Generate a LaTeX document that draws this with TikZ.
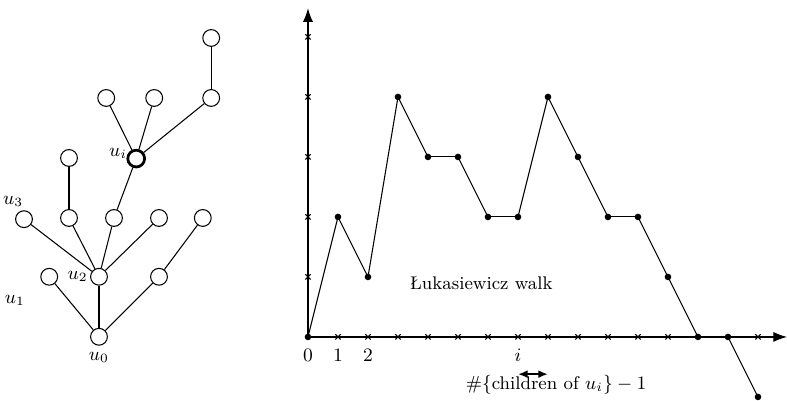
\documentclass[tikz,border=0pt]{standalone}
\usepackage{tikz}
\usetikzlibrary{arrows.meta, positioning, shapes.misc}
\tikzset{
  vtx/.style={circle, draw, line width=0.5pt, minimum size=0.28cm, inner sep=0pt, fill=white},
  vtxbold/.style={vtx, line width=1.3pt},
  edge/.style={line width=0.5pt},
  dot/.style={circle, fill, minimum size=0.11cm, inner sep=0pt},
  crs/.style={cross out, draw, line width=0.5pt, minimum size=0.07cm, inner sep=0pt},
  axis/.style={line width=0.6pt, -{Latex[length=2.3mm, width=1.7mm]}},
  walk/.style={line width=0.5pt},
  lbl/.style={inner sep=1pt},
}

\begin{document}
\begin{tikzpicture}[x=1cm, y=1cm, font=\fontsize{8.7}{10}\selectfont]
  \useasboundingbox (0,0) rectangle (13.117,6.683);
  \node[vtx, label={[lbl, label distance=2pt]below:$u_0$}] (u0) at (1.65,1.07) {};
  \node[vtx] (u1) at (0.82,2.07) {};
  \node[vtx, label={[lbl]left:$u_2$}] (u2) at (1.65,2.07) {};
  \node[vtx] (r1) at (2.65,2.07) {};
  \node[vtx] (u3) at (0.4,3.03) {};
  \node[vtx] (c2) at (1.15,3.05) {};
  \node[vtx] (c3) at (1.9,3.05) {};
  \node[vtx] (c4) at (2.65,3.05) {};
  \node[vtx] (r2) at (3.38,3.05) {};
  \node[vtx] (g1) at (1.15,4.05) {};
  \node[vtxbold] (ui) at (2.27,4.04) {};
  \node[vtx] (d1) at (1.77,5.05) {};
  \node[vtx] (d2) at (2.57,5.05) {};
  \node[vtx] (d3) at (3.52,5.05) {};
  \node[vtx] (e1) at (3.52,6.05) {};
  \node[lbl] (l1) at (0.25,1.68) {$u_1$};
  \node[lbl] (l3) at (0.22,3.32) {$u_3$};
  \node[lbl] (li) at (1.97,4.13) {$u_i$};
  \foreach \a/\b in {u0/u1, u0/u2, u0/r1, u2/u3, u2/c2, u2/c3, u2/c4, r1/r2, c2/g1, c3/ui, ui/d1, ui/d2, ui/d3, d3/e1}
    \draw[edge] (\a) -- (\b);

  \begin{scope}[shift={(5.133,1.067)}, x=0.5cm, y=1cm]
    \coordinate (o) at (0,0);
    \coordinate (xend) at (15.97,0);
    \coordinate (yend) at (0,5.48);
    \draw[axis] (o) -- (xend);
    \draw[axis] (o) -- (yend);
    \foreach \i in {1,...,12,15}
      \node[crs] (xt\i) at (\i,0) {};
    \foreach \j in {1,...,5}
      \node[crs] (yt\j) at (0,\j) {};
    \foreach \yy [count=\k from 0] in {0,2,1,4,3,3,2,2,4,3,2,2,1,0,0,-1}
      \node[dot] (w\k) at (\k,\yy) {};
    \foreach \k [evaluate=\k as \j using int(\k+1)] in {0,...,14}
      \draw[walk] (w\k.center) -- (w\j.center);
    \node (n0) at (0,-0.3) {$0$};
    \node (n1) at (1,-0.3) {$1$};
    \node (n2) at (2,-0.3) {$2$};
    \node (ni) at (7,-0.3) {$i$};
    \node (wl) at (5.78,0.9) {\L{}ukasiewicz walk};
    \coordinate (ca) at (7,-0.62);
    \coordinate (cb) at (8,-0.62);
    \draw[line width=0.9pt, {Latex[length=1.6mm, width=1.3mm]}-{Latex[length=1.6mm, width=1.3mm]}] (ca) -- (cb);
    \node (ch) at (8.27,-0.8) {$\#\{\mbox{children of } u_i\} - 1$};
  \end{scope}
\end{tikzpicture}
\end{document}
